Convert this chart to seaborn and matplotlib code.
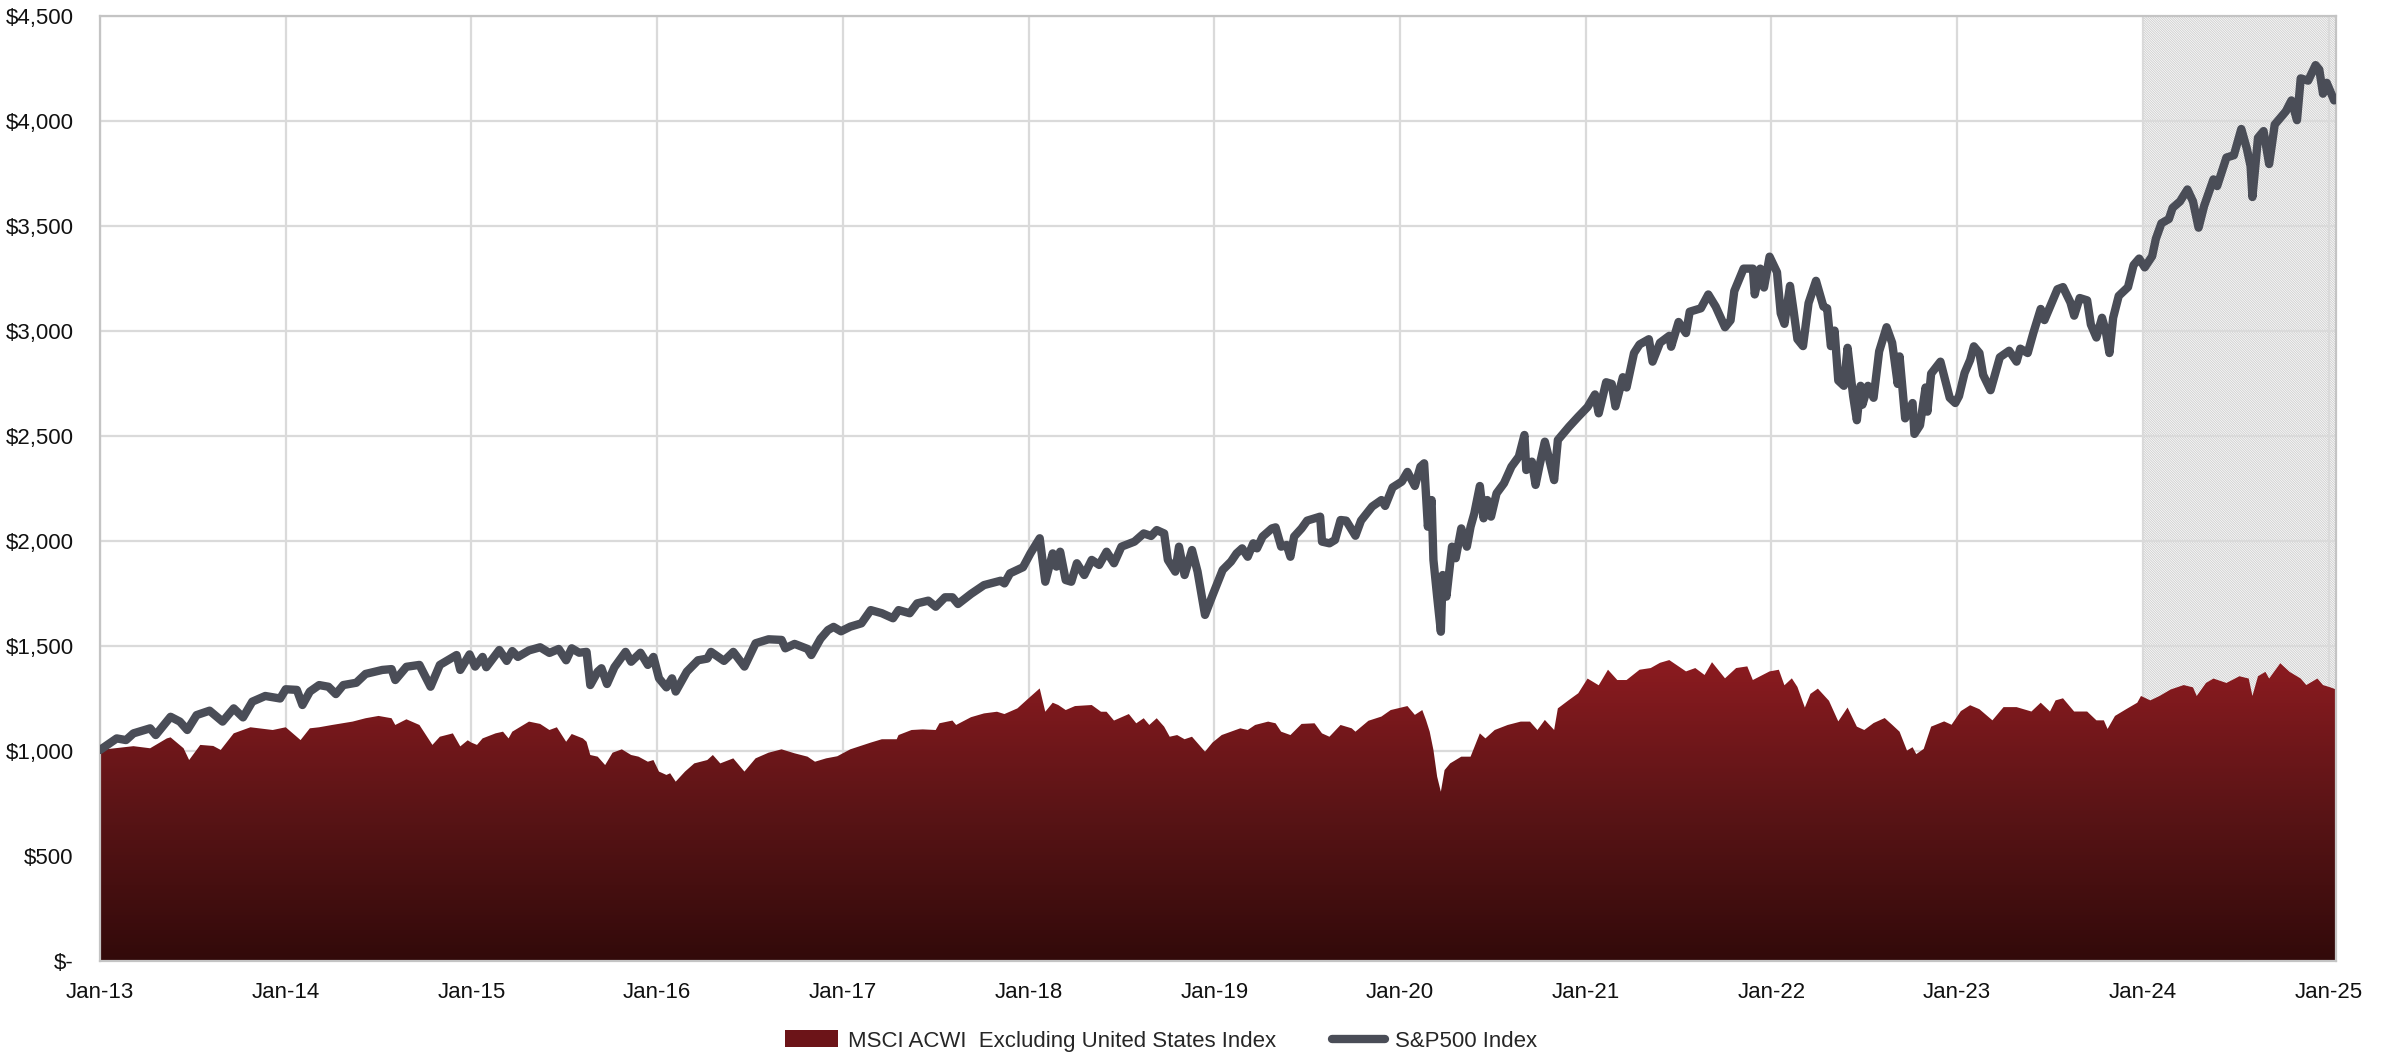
import numpy as np
import pandas as pd
import matplotlib
matplotlib.use("Agg")
import matplotlib.pyplot as plt
import seaborn as sns
from matplotlib.patches import Rectangle, Patch
from matplotlib.lines import Line2D
from matplotlib.colors import LinearSegmentedColormap
from matplotlib.ticker import FuncFormatter
from matplotlib import font_manager

# ---- data: growth of $1,000, dates as decimal years ----
sp_t = [2013.00, 2013.09, 2013.14, 2013.18, 2013.27, 2013.30, 2013.38, 2013.43, 2013.47, 2013.52,
        2013.59, 2013.66, 2013.72, 2013.77, 2013.82, 2013.89, 2013.97, 2014.00, 2014.06, 2014.09,
        2014.13, 2014.18, 2014.23, 2014.27, 2014.31, 2014.38, 2014.43, 2014.52, 2014.57, 2014.59,
        2014.65, 2014.72, 2014.78, 2014.83, 2014.92, 2014.94, 2014.99, 2015.02, 2015.06, 2015.08,
        2015.15, 2015.19, 2015.22, 2015.25, 2015.31, 2015.37, 2015.42, 2015.47, 2015.51, 2015.54,
        2015.58, 2015.62, 2015.64, 2015.68, 2015.70, 2015.73, 2015.77, 2015.83, 2015.86, 2015.91,
        2015.95, 2015.98, 2016.01, 2016.05, 2016.08, 2016.10, 2016.16, 2016.22, 2016.27, 2016.29,
        2016.36, 2016.41, 2016.47, 2016.53, 2016.60, 2016.67, 2016.69, 2016.74, 2016.81, 2016.83,
        2016.88, 2016.92, 2016.95, 2016.99, 2017.04, 2017.10, 2017.15, 2017.21, 2017.27, 2017.30,
        2017.36, 2017.40, 2017.46, 2017.50, 2017.55, 2017.59, 2017.62, 2017.69, 2017.76, 2017.85,
        2017.87, 2017.90, 2017.97, 2018.01, 2018.06, 2018.09, 2018.13, 2018.15, 2018.17, 2018.20,
        2018.23, 2018.26, 2018.30, 2018.34, 2018.38, 2018.42, 2018.46, 2018.50, 2018.57, 2018.62,
        2018.66, 2018.69, 2018.73, 2018.75, 2018.79, 2018.81, 2018.84, 2018.88, 2018.91, 2018.95,
        2018.99, 2019.02, 2019.045, 2019.09, 2019.12, 2019.15, 2019.18, 2019.21, 2019.23, 2019.26,
        2019.31, 2019.33, 2019.36, 2019.39, 2019.41, 2019.43, 2019.47, 2019.50, 2019.57, 2019.58,
        2019.62, 2019.65, 2019.68, 2019.71, 2019.76, 2019.79, 2019.85, 2019.90, 2019.92, 2019.96,
        2020.01, 2020.04, 2020.08, 2020.11, 2020.13, 2020.15, 2020.17, 2020.18, 2020.20, 2020.22,
        2020.23, 2020.25, 2020.28, 2020.30, 2020.33, 2020.36, 2020.38, 2020.40, 2020.43, 2020.45,
        2020.47, 2020.49, 2020.52, 2020.56, 2020.60, 2020.64, 2020.67, 2020.68, 2020.71, 2020.73,
        2020.75, 2020.78, 2020.80, 2020.83, 2020.85, 2020.91, 2020.96, 2021.01, 2021.05, 2021.07,
        2021.11, 2021.14, 2021.16, 2021.20, 2021.22, 2021.26, 2021.29, 2021.34, 2021.36, 2021.40,
        2021.45, 2021.46, 2021.50, 2021.54, 2021.56, 2021.62, 2021.66, 2021.70, 2021.75, 2021.78,
        2021.80, 2021.85, 2021.90, 2021.91, 2021.94, 2021.96, 2021.99, 2022.03, 2022.05, 2022.07,
        2022.10, 2022.12, 2022.14, 2022.17, 2022.20, 2022.24, 2022.28, 2022.30, 2022.32, 2022.34,
        2022.36, 2022.39, 2022.41, 2022.44, 2022.46, 2022.48, 2022.49, 2022.52, 2022.55, 2022.58,
        2022.62, 2022.65, 2022.68, 2022.69, 2022.72, 2022.76, 2022.77, 2022.80, 2022.83, 2022.84,
        2022.86, 2022.91, 2022.96, 2022.99, 2023.01, 2023.04, 2023.07, 2023.09, 2023.12, 2023.14,
        2023.18, 2023.23, 2023.28, 2023.32, 2023.34, 2023.38, 2023.41, 2023.45, 2023.47, 2023.50,
        2023.54, 2023.57, 2023.61, 2023.63, 2023.66, 2023.70, 2023.72, 2023.75, 2023.78, 2023.80,
        2023.82, 2023.84, 2023.87, 2023.92, 2023.95, 2023.98, 2024.01, 2024.05, 2024.07, 2024.10,
        2024.14, 2024.16, 2024.20, 2024.24, 2024.27, 2024.30, 2024.33, 2024.38, 2024.40, 2024.45,
        2024.49, 2024.53, 2024.56, 2024.58, 2024.59, 2024.62, 2024.65, 2024.68, 2024.71, 2024.77,
        2024.80, 2024.83, 2024.85, 2024.89, 2024.93, 2024.95, 2024.97, 2024.99, 2025.03]
sp_v = [1005, 1060, 1052, 1084, 1108, 1076, 1163, 1140, 1100, 1171,
        1192, 1140, 1203, 1160, 1235, 1262, 1250, 1294, 1291, 1219,
        1283, 1314, 1306, 1271, 1314, 1325, 1367, 1386, 1390, 1338,
        1401, 1410, 1306, 1410, 1457, 1386, 1460, 1402, 1448, 1399,
        1481, 1429, 1476, 1448, 1479, 1494, 1467, 1486, 1432, 1489,
        1468, 1472, 1314, 1378, 1394, 1319, 1399, 1472, 1425, 1468,
        1410, 1448, 1346, 1303, 1346, 1283, 1378, 1432, 1440, 1472,
        1429, 1472, 1402, 1513, 1532, 1529, 1489, 1510, 1486, 1457,
        1535, 1576, 1591, 1570, 1592, 1608, 1671, 1656, 1632, 1671,
        1656, 1703, 1716, 1687, 1732, 1732, 1700, 1748, 1790, 1811,
        1798, 1846, 1875, 1941, 2013, 1806, 1941, 1878, 1949, 1814,
        1806, 1894, 1838, 1910, 1886, 1949, 1894, 1973, 1997, 2036,
        2024, 2052, 2036, 1910, 1854, 1973, 1838, 1957, 1854, 1648,
        1740, 1806, 1862, 1902, 1941, 1965, 1925, 1989, 1965, 2021,
        2060, 2065, 1973, 1981, 1925, 2021, 2060, 2097, 2116, 1997,
        1989, 2005, 2100, 2097, 2025, 2097, 2164, 2195, 2167, 2255,
        2283, 2329, 2262, 2354, 2370, 2068, 2195, 1910, 1735, 1568,
        1838, 1735, 1973, 1918, 2060, 1973, 2068, 2131, 2262, 2108,
        2195, 2116, 2227, 2275, 2354, 2402, 2505, 2338, 2378, 2267,
        2354, 2473, 2402, 2290, 2481, 2544, 2592, 2638, 2698, 2608,
        2756, 2748, 2641, 2780, 2731, 2895, 2936, 2961, 2854, 2944,
        2977, 2925, 3043, 2990, 3092, 3108, 3174, 3116, 3018, 3051,
        3190, 3297, 3297, 3174, 3297, 3207, 3354, 3280, 3084, 3034,
        3215, 3092, 2961, 2928, 3133, 3239, 3116, 3108, 2928, 3002,
        2764, 2739, 2920, 2690, 2575, 2739, 2649, 2739, 2682, 2903,
        3018, 2944, 2748, 2879, 2584, 2657, 2510, 2551, 2731, 2616,
        2797, 2854, 2682, 2657, 2690, 2800, 2862, 2927, 2895, 2791,
        2718, 2875, 2906, 2854, 2916, 2895, 2990, 3105, 3052, 3115,
        3199, 3209, 3136, 3073, 3157, 3146, 3031, 2969, 3063, 3000,
        2895, 3063, 3167, 3209, 3314, 3345, 3303, 3356, 3439, 3513,
        3533, 3586, 3617, 3674, 3617, 3492, 3596, 3722, 3690, 3826,
        3837, 3962, 3868, 3785, 3638, 3920, 3952, 3795, 3983, 4046,
        4098, 4004, 4203, 4192, 4266, 4245, 4130, 4182, 4098]

msci_t = [2013.00, 2013.18, 2013.27, 2013.36, 2013.38, 2013.45, 2013.48, 2013.54, 2013.61, 2013.65,
          2013.72, 2013.81, 2013.93, 2014.00, 2014.08, 2014.13, 2014.18, 2014.25, 2014.36, 2014.43,
          2014.50, 2014.57, 2014.59, 2014.65, 2014.72, 2014.79, 2014.83, 2014.90, 2014.94, 2014.98,
          2015.00, 2015.03, 2015.06, 2015.13, 2015.17, 2015.20, 2015.22, 2015.31, 2015.37, 2015.42,
          2015.46, 2015.51, 2015.54, 2015.60, 2015.62, 2015.64, 2015.68, 2015.72, 2015.76, 2015.81,
          2015.86, 2015.90, 2015.95, 2015.98, 2016.01, 2016.05, 2016.07, 2016.10, 2016.15, 2016.20,
          2016.27, 2016.30, 2016.34, 2016.41, 2016.47, 2016.53, 2016.60, 2016.67, 2016.74, 2016.81,
          2016.85, 2016.91, 2016.97, 2017.04, 2017.15, 2017.21, 2017.29, 2017.30, 2017.37, 2017.43,
          2017.50, 2017.52, 2017.59, 2017.61, 2017.69, 2017.76, 2017.83, 2017.87, 2017.94, 2018.00,
          2018.06, 2018.09, 2018.13, 2018.16, 2018.20, 2018.25, 2018.34, 2018.39, 2018.42, 2018.46,
          2018.54, 2018.58, 2018.62, 2018.65, 2018.69, 2018.73, 2018.76, 2018.80, 2018.84, 2018.88,
          2018.95, 2018.99, 2019.04, 2019.09, 2019.14, 2019.18, 2019.22, 2019.29, 2019.33, 2019.36,
          2019.41, 2019.47, 2019.54, 2019.58, 2019.62, 2019.68, 2019.74, 2019.76, 2019.83, 2019.90,
          2019.95, 2020.04, 2020.08, 2020.12, 2020.14, 2020.16, 2020.18, 2020.20, 2020.22, 2020.24,
          2020.27, 2020.33, 2020.38, 2020.43, 2020.46, 2020.51, 2020.58, 2020.65, 2020.70, 2020.74,
          2020.78, 2020.83, 2020.85, 2020.91, 2020.96, 2021.01, 2021.07, 2021.12, 2021.17, 2021.22,
          2021.29, 2021.35, 2021.40, 2021.45, 2021.54, 2021.59, 2021.64, 2021.68, 2021.75, 2021.81,
          2021.87, 2021.90, 2021.99, 2022.04, 2022.07, 2022.11, 2022.14, 2022.18, 2022.21, 2022.25,
          2022.31, 2022.36, 2022.41, 2022.46, 2022.50, 2022.55, 2022.61, 2022.65, 2022.69, 2022.73,
          2022.76, 2022.78, 2022.82, 2022.86, 2022.93, 2022.97, 2023.02, 2023.07, 2023.12, 2023.19,
          2023.25, 2023.32, 2023.40, 2023.45, 2023.50, 2023.53, 2023.57, 2023.63, 2023.70, 2023.75,
          2023.79, 2023.81, 2023.85, 2023.91, 2023.97, 2023.99, 2024.04, 2024.09, 2024.15, 2024.22,
          2024.27, 2024.29, 2024.34, 2024.38, 2024.45, 2024.52, 2024.57, 2024.59, 2024.62, 2024.66,
          2024.68, 2024.74, 2024.79, 2024.85, 2024.88, 2024.94, 2024.97, 2025.01, 2025.04]
msci_v = [1005, 1023, 1013, 1060, 1065, 1013, 957, 1029, 1024, 1005,
          1084, 1113, 1100, 1113, 1052, 1108, 1113, 1124, 1140, 1156,
          1167, 1156, 1124, 1151, 1124, 1029, 1068, 1084, 1022, 1051,
          1040, 1029, 1060, 1084, 1092, 1060, 1092, 1140, 1129, 1100,
          1113, 1044, 1081, 1060, 1044, 981, 973, 933, 992, 1008,
          981, 973, 949, 957, 902, 886, 894, 854, 902, 941,
          957, 981, 941, 965, 902, 965, 992, 1008, 989, 973,
          949, 965, 975, 1008, 1040, 1056, 1056, 1076, 1100, 1103,
          1100, 1132, 1145, 1124, 1161, 1179, 1187, 1176, 1203, 1251,
          1298, 1187, 1230, 1219, 1195, 1214, 1219, 1187, 1187, 1145,
          1176, 1132, 1156, 1124, 1156, 1116, 1068, 1076, 1056, 1068,
          997, 1040, 1076, 1092, 1108, 1100, 1124, 1140, 1132, 1092,
          1076, 1129, 1132, 1084, 1068, 1124, 1108, 1092, 1144, 1164,
          1195, 1214, 1172, 1195, 1148, 1092, 1005, 878, 806, 909,
          941, 973, 973, 1084, 1060, 1100, 1124, 1140, 1140, 1100,
          1148, 1100, 1203, 1243, 1275, 1345, 1313, 1387, 1338, 1338,
          1387, 1395, 1420, 1433, 1379, 1395, 1362, 1423, 1346, 1395,
          1403, 1338, 1379, 1387, 1313, 1346, 1305, 1207, 1272, 1297,
          1239, 1141, 1207, 1116, 1100, 1133, 1157, 1125, 1092, 1002,
          1018, 985, 1010, 1116, 1141, 1125, 1190, 1218, 1199, 1146,
          1209, 1209, 1188, 1230, 1188, 1241, 1251, 1188, 1188, 1146,
          1146, 1105, 1167, 1199, 1230, 1262, 1241, 1262, 1293, 1314,
          1303, 1262, 1324, 1345, 1324, 1356, 1345, 1262, 1356, 1377,
          1345, 1418, 1377, 1345, 1314, 1345, 1314, 1303, 1293]

year_ticks = list(range(2013, 2026))
year_labels = [f"Jan-{y % 100:02d}" for y in year_ticks]
y_ticks = list(range(0, 4501, 500))
shade_start = 2024.0
x_end = 2025.04

sp_name = "S&P500 Index"
msci_name = "MSCI ACWI  Excluding United States Index"

# ---- styling ----
sns.set_theme(style="white")
installed = {f.name for f in font_manager.fontManager.ttflist}
families = [f for f in ['Liberation Sans Narrow', 'Liberation Sans', 'DejaVu Sans'] if f in installed]
plt.rcParams['font.family'] = families
plt.rcParams['hatch.linewidth'] = 0.7

LINE_COLOR = '#4a4d57'
GRID_COLOR = '#dadada'
FS = 16
LW = 6.0

fig = plt.figure(figsize=(23.84, 10.56), dpi=100)
ax = fig.add_axes([100 / 2384, 95 / 1056, 2236 / 2384, 945 / 1056])

# hatched band for the most recent year
ax.add_patch(Rectangle((shade_start, 0), x_end - shade_start, 4500,
                       facecolor='white', edgecolor='#d0d0d0', hatch='\\' * 14,
                       linewidth=0, zorder=0.3))

# MSCI area with a vertical gradient
poly = ax.fill_between(msci_t, msci_v, 0, facecolor='none', edgecolor='none', zorder=2)
grad = np.linspace(0, 1, 256).reshape(-1, 1)
cmap = LinearSegmentedColormap.from_list('msci', ['#320a0a', '#5a1416', '#8c1b20'])
im = ax.imshow(grad, extent=[2013, x_end, 0, max(msci_v)], origin='lower',
               aspect='auto', cmap=cmap, zorder=2, interpolation='bicubic')
im.set_clip_path(poly.get_paths()[0], transform=ax.transData)

# S&P 500 line
df_sp = pd.DataFrame({'t': sp_t, 'value': sp_v})
sns.lineplot(data=df_sp, x='t', y='value', ax=ax, color=LINE_COLOR, linewidth=LW,
             estimator=None, sort=False, legend=False, zorder=3)
for ln in ax.lines:
    ln.set_solid_joinstyle('round')
    ln.set_solid_capstyle('round')

ax.set_xlim(2013, x_end)
ax.set_ylim(0, 4500)
ax.set_xticks(year_ticks)
ax.set_xticklabels(year_labels)
ax.set_yticks(y_ticks)
ax.yaxis.set_major_formatter(FuncFormatter(lambda v, p: "$-" if v == 0 else f"${v:,.0f}"))
ax.set_xlabel("")
ax.set_ylabel("")
ax.grid(True, color=GRID_COLOR, linewidth=1.6)
ax.set_axisbelow(True)
ax.tick_params(axis='x', length=0, pad=15, labelsize=FS, labelcolor='#111111')
ax.tick_params(axis='y', length=0, pad=19, labelsize=FS, labelcolor='#111111')
for s in ax.spines.values():
    s.set_color('#c4c4c4')
    s.set_linewidth(1.6)

handles = [Patch(facecolor='#6c1418', edgecolor='none'),
           Line2D([0], [0], color=LINE_COLOR, linewidth=LW, solid_capstyle='round')]
fig.legend(handles, [msci_name, sp_name], loc='center', ncol=2,
           bbox_to_anchor=(1161 / 2384, 1 - 1041 / 1056), frameon=False,
           fontsize=FS, handlelength=2.4, handleheight=0.8, handletextpad=0.45,
           columnspacing=2.5)

fig.savefig("out.png", dpi=100)
